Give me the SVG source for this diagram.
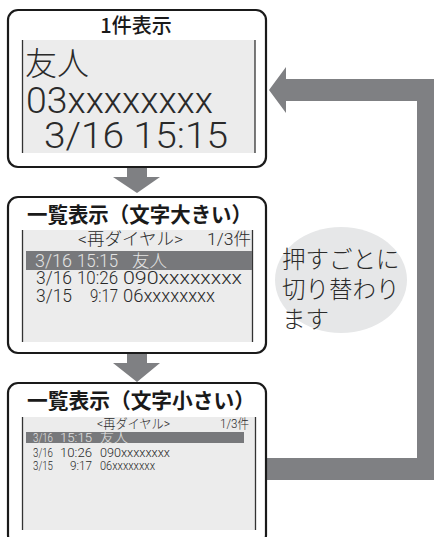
<svg xmlns="http://www.w3.org/2000/svg" width="434" height="537" viewBox="0 0 434 537">
<style>
.box{fill:#fff;stroke:#1a1a1a;stroke-width:2.2}
.panel{fill:#ececec}
.edge{stroke:#333;stroke-width:1.3}
.arrow{fill:#7f8083}
.t{font-family:Roboto,"Liberation Sans","Noto Sans CJK JP",sans-serif;font-weight:300;fill:#2a2a2a}
.jp{font-family:"Noto Sans CJK JP",sans-serif;font-weight:300;fill:#2a2a2a}
.title{font-family:"Noto Sans CJK JP",sans-serif;font-weight:bold;fill:#1a1a1a}
.inv{fill:#e4e4e4}
</style>
<rect width="434" height="537" fill="#fff"/>
<g id="connectors">
<path class="arrow" d="M127,167 H147 V177 H160 L137,193 L113,177 H127 Z"/>
<path class="arrow" d="M127,353 H147 V363 H160 L137,382 L113,363 H127 Z"/>
<path class="arrow" d="M266,458 H417 V101 H286 V113 L269,90 L286,67 V79 H434 V480 H266 Z"/>
</g>
<g id="node-single">
<rect class="box" x="8" y="10" width="258" height="157" rx="10"/>
<text class="title" x="136" y="33" font-size="20" text-anchor="middle" style="font-weight:500">1件表示</text>
<rect class="panel" x="22" y="40" width="233" height="113"/>
<line class="edge" x1="22.5" y1="40" x2="22.5" y2="153"/>
<line class="edge" x1="255" y1="40" x2="255" y2="153"/>
<text class="jp" x="25" y="75" font-size="32">友人</text>
<text class="t" x="26" y="113" font-size="37" textLength="187" lengthAdjust="spacingAndGlyphs">03xxxxxxxx</text>
<text class="t" x="44" y="148" font-size="37" textLength="184" lengthAdjust="spacingAndGlyphs">3/16 15:15</text>
</g>
<g id="node-list-large">
<rect class="box" x="8" y="197" width="258" height="156" rx="10"/>
<text class="title" x="27" y="222" font-size="21" textLength="225" lengthAdjust="spacingAndGlyphs">一覧表示（文字大きい）</text>
<rect class="panel" x="22" y="230" width="231" height="112"/>
<line class="edge" x1="22.5" y1="230" x2="22.5" y2="342"/>
<line class="edge" x1="252.5" y1="230" x2="252.5" y2="342"/>
<text class="t" x="78" y="245" font-size="17" textLength="105" lengthAdjust="spacingAndGlyphs">&lt;再ダイヤル&gt;</text>
<text class="t" x="207" y="245" font-size="17" textLength="44" lengthAdjust="spacingAndGlyphs">1/3件</text>
<rect x="26" y="251" width="226" height="19" fill="#77787b"/>
<text class="t inv" x="35" y="267" font-size="17.5" textLength="37" lengthAdjust="spacingAndGlyphs">3/16</text>
<text class="t inv" x="77" y="267" font-size="17.5" textLength="41" lengthAdjust="spacingAndGlyphs">15:15</text>
<text class="t inv" x="132" y="267" font-size="17" textLength="35" lengthAdjust="spacingAndGlyphs">友人</text>
<text class="t" x="36" y="284" font-size="17.5" textLength="36" lengthAdjust="spacingAndGlyphs">3/16</text>
<text class="t" x="77" y="284" font-size="17.5" textLength="41" lengthAdjust="spacingAndGlyphs">10:26</text>
<text class="t" x="123" y="284" font-size="17.5" textLength="119" lengthAdjust="spacingAndGlyphs">090xxxxxxxx</text>
<text class="t" x="36" y="302" font-size="17.5" textLength="36" lengthAdjust="spacingAndGlyphs">3/15</text>
<text class="t" x="90" y="302" font-size="17.5" textLength="28" lengthAdjust="spacingAndGlyphs">9:17</text>
<text class="t" x="123" y="302" font-size="17.5" textLength="92" lengthAdjust="spacingAndGlyphs">06xxxxxxxx</text>
</g>
<g id="node-list-small">
<rect class="box" x="8" y="383" width="258" height="162" rx="10"/>
<text class="title" x="27" y="408" font-size="21" textLength="228" lengthAdjust="spacingAndGlyphs">一覧表示（文字小さい）</text>
<rect class="panel" x="22" y="417" width="234" height="113"/>
<line class="edge" x1="22.5" y1="417" x2="22.5" y2="530"/>
<line class="edge" x1="255.5" y1="417" x2="255.5" y2="530"/>
<text class="t" x="97" y="428" font-size="13" textLength="73" lengthAdjust="spacingAndGlyphs">&lt;再ダイヤル&gt;</text>
<text class="t" x="220" y="428" font-size="13" textLength="29" lengthAdjust="spacingAndGlyphs">1/3件</text>
<rect x="26" y="432" width="218" height="11" fill="#77787b"/>
<text class="t inv" x="33" y="442" font-size="13" textLength="20" lengthAdjust="spacingAndGlyphs">3/16</text>
<text class="t inv" x="60" y="442" font-size="13" textLength="32" lengthAdjust="spacingAndGlyphs">15:15</text>
<text class="t inv" x="100" y="442" font-size="13" textLength="28" lengthAdjust="spacingAndGlyphs">友人</text>
<text class="t" x="33" y="457" font-size="13" textLength="20" lengthAdjust="spacingAndGlyphs">3/16</text>
<text class="t" x="60" y="457" font-size="13" textLength="32" lengthAdjust="spacingAndGlyphs">10:26</text>
<text class="t" x="100" y="457" font-size="13" textLength="70" lengthAdjust="spacingAndGlyphs">090xxxxxxxx</text>
<text class="t" x="33" y="470" font-size="13" textLength="20" lengthAdjust="spacingAndGlyphs">3/15</text>
<text class="t" x="70" y="470" font-size="13" textLength="22" lengthAdjust="spacingAndGlyphs">9:17</text>
<text class="t" x="100" y="470" font-size="13" textLength="55" lengthAdjust="spacingAndGlyphs">06xxxxxxxx</text>
</g>
<g id="note">
<ellipse cx="341" cy="280" rx="66" ry="53" fill="#e6e7e8"/>
<text class="jp" x="282" y="268" font-size="23.5">押すごとに</text>
<text class="jp" x="282" y="298" font-size="23.5">切り替わり</text>
<text class="jp" x="282" y="328" font-size="23.5">ます</text>
</g>
</svg>
